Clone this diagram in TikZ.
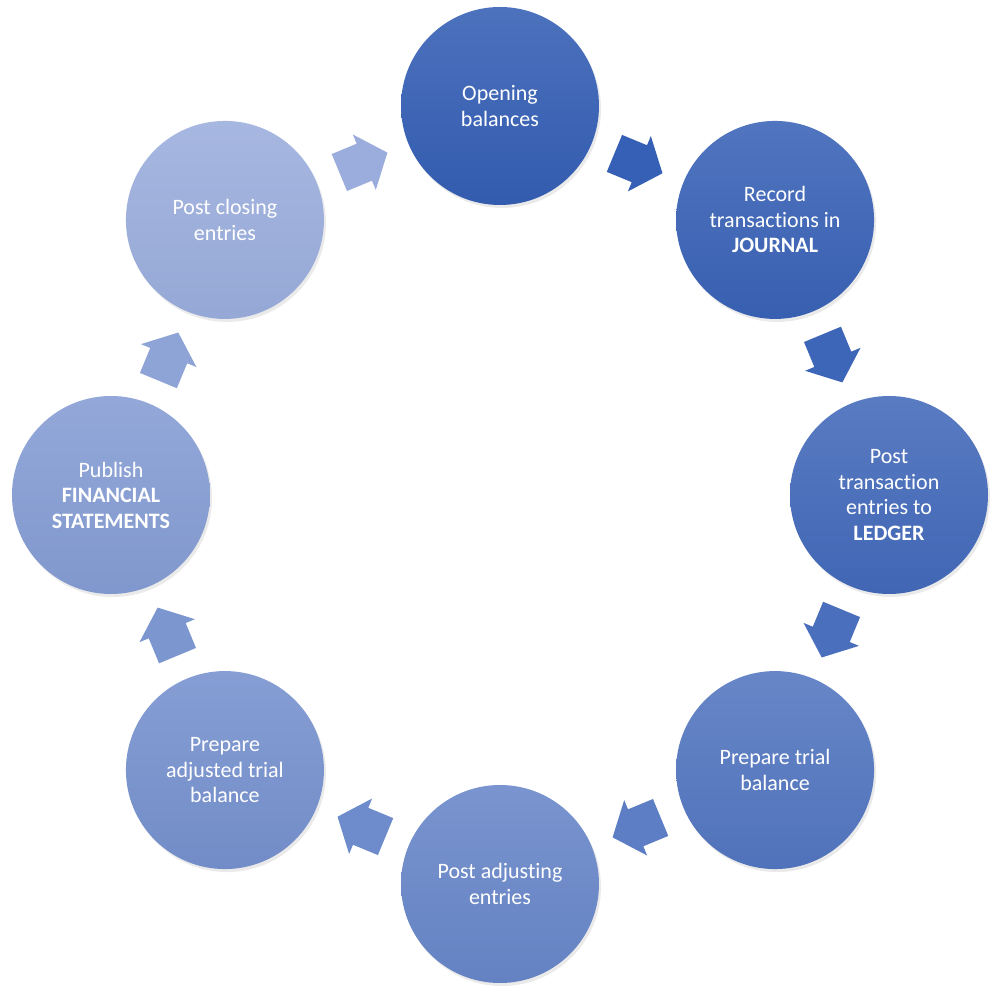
\documentclass[tikz,border=0pt]{standalone}
\usepackage{fontspec}
\setmainfont[Ligatures=NoCommon]{Carlito}
\usetikzlibrary{calc,shadows}
\definecolor{cdark}{HTML}{345EB4}
\definecolor{clight}{HTML}{9AADDC}
\begin{document}
\begin{tikzpicture}[x=1pt,y=1pt,
  stepcircle/.style={circle, minimum size=198pt, inner sep=0pt, align=center,
    text=white, font=\fontsize{22}{25.5}\selectfont,
    drop shadow={opacity=0.16, shadow xshift=2pt, shadow yshift=-3pt}},
  cyclearrow/.pic={\path[pic actions] (-25,-20) -- (2,-20) -- (2,-30) -- (27,0)
    -- (2,30) -- (2,20) -- (-25,20) -- cycle;}
]
\fill[white] (-500,-505) rectangle (500,495);
\useasboundingbox (-500,-505) rectangle (500,495);
\foreach \k/\p/\txt in {0/0/{Opening\\balances},
  1/5/{Record\\transactions in\\\textbf{JOURNAL}},
  2/14/{Post\\transaction\\entries to\\\textbf{LEDGER}},
  3/30/{Prepare trial\\balance},
  4/50/{Post adjusting\\entries},
  5/64/{Prepare\\adjusted trial\\balance},
  6/79/{Publish\\\textbf{FINANCIAL}\\\textbf{STATEMENTS}},
  7/100/{Post closing\\entries}} {
  \colorlet{cbase}{clight!\p!cdark}
  \node[stepcircle, top color=cbase!88!white, bottom color=cbase!97!black]
    (c\k) at ({90-45*\k}:389) {\txt};
}
\foreach \k/\p in {0/2,1/9,2/22,3/40,4/57,5/71,6/88,7/100} {
  \pgfmathtruncatemacro\j{mod(\k+1,8)}
  \colorlet{abase}{clight!\p!cdark}
  \pic[rotate={-45*\k-22.5}, fill=abase,
    drop shadow={opacity=0.16, shadow xshift=2pt, shadow yshift=-3pt}]
    at ($(c\k)!0.5!(c\j)$) {cyclearrow};
}
\end{tikzpicture}
\end{document}
